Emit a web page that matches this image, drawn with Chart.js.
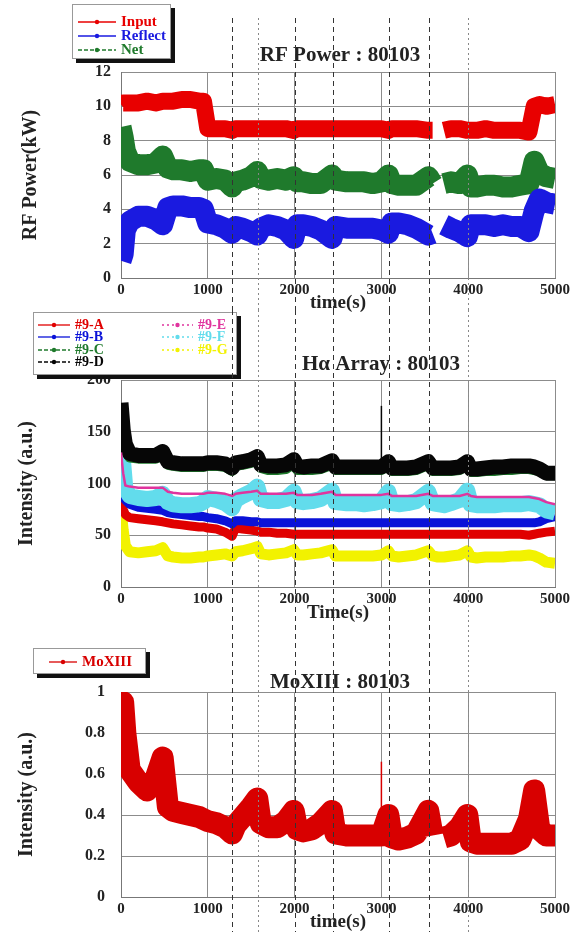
<!DOCTYPE html>
<html>
<head>
<meta charset="utf-8">
<script src="https://cdn.jsdelivr.net/npm/chart.js"></script>
<style>
  html, body { margin: 0; padding: 0; background: #fff; }
  canvas { position: absolute; left: 0; }
</style>
</head>
<body>
<canvas id="rf" width="573" height="316" style="top:0px"></canvas>
<canvas id="ha" width="573" height="318" style="top:310px"></canvas>
<canvas id="mo" width="573" height="307" style="top:625px"></canvas>
<script>
// Time base (s), shared by every trace
const times = [
  0, 25, 50, 100, 200, 300, 400, 480, 540, 600,
  700, 800, 900, 950, 1000, 1100, 1200, 1280, 1320, 1400,
  1500, 1570, 1610, 1700, 1800, 1900, 1990, 2030, 2100, 2200,
  2300, 2430, 2470, 2600, 2700, 2800, 2900, 3000, 3080, 3120,
  3200, 3300, 3400, 3540, 3590, 3650, 3720, 3800, 3900, 3990,
  4030, 4100, 4200, 4300, 4400, 4500, 4600, 4700, 4760, 4820,
  4900, 5000
];

// RF power (kW)
const rfInput = [
  10.1, 10.2, 10.2, 10.2, 10.2, 10.3, 10.2, 10.3, 10.3, 10.3,
  10.4, 10.4, 10.3, 10.3, 8.7, 8.7, 8.7, 8.6, 8.7, 8.7,
  8.7, 8.7, 8.7, 8.7, 8.7, 8.7, 8.6, 8.7, 8.7, 8.7,
  8.7, 8.7, 8.7, 8.7, 8.7, 8.7, 8.7, 8.7, 8.6, 8.7,
  8.7, 8.7, 8.7, 8.6, 8.6, null, 8.6, 8.7, 8.7, 8.6,
  8.6, 8.6, 8.7, 8.6, 8.6, 8.6, 8.6, 8.5, 10.0, 10.1,
  10.0, 10.1
];
const rfReflect = [
  1.0, 1.4, 2.8, 3.3, 3.6, 3.6, 3.4, 3.1, 4.1, 4.2,
  4.2, 4.1, 4.1, 4.0, 3.2, 3.1, 2.9, 2.6, 3.0, 2.9,
  2.7, 2.5, 2.9, 3.1, 3.0, 2.8, 2.3, 3.1, 3.1, 3.0,
  2.8, 2.3, 3.0, 2.9, 2.9, 2.9, 2.9, 2.8, 2.6, 3.2,
  3.2, 3.1, 2.9, 2.5, 2.6, null, 3.1, 2.9, 2.7, 2.4,
  3.1, 3.1, 3.1, 3.0, 3.1, 3.0, 3.0, 2.7, 3.9, 4.6,
  4.4, 4.3
];
const rfNet = [
  8.8, 8.2, 7.4, 6.8, 6.6, 6.6, 6.7, 7.1, 6.4, 6.3,
  6.3, 6.2, 6.3, 6.3, 5.7, 5.8, 5.7, 5.3, 5.6, 5.7,
  5.9, 6.2, 5.8, 5.7, 5.8, 5.7, 5.9, 5.6, 5.6, 5.5,
  5.5, 6.0, 5.7, 5.6, 5.6, 5.6, 5.5, 5.6, 6.0, 5.5,
  5.4, 5.4, 5.4, 5.9, 5.5, null, 5.5, 5.6, 5.5, 6.0,
  5.3, 5.3, 5.4, 5.4, 5.3, 5.3, 5.4, 5.5, 6.8, 6.1,
  5.9, 5.8
];

// H-alpha array (a.u.)
const ha9A = [
  85, 75, 70, 67, 66, 65, 64, 63, 62, 61,
  60, 59, 58, 58, 57, 56, 53, 49, 57, 56,
  55, 54, 53, 53, 52, 52, 51, 51, 51, 51,
  51, 51, 51, 51, 51, 51, 51, 51, 51, 51,
  51, 51, 51, 51, 51, 51, 51, 51, 51, 51,
  51, 51, 51, 51, 51, 51, 51, 50, 51, 52,
  53, 54
];
const ha9B = [
  100, 90, 84, 80, 77, 76, 75, 74, 72, 71,
  70, 69, 68, 68, 67, 66, 64, 61, 64, 64,
  63, 63, 62, 62, 62, 62, 62, 62, 62, 62,
  62, 62, 62, 62, 62, 62, 62, 62, 62, 62,
  62, 62, 62, 62, 62, 62, 62, 62, 62, 62,
  62, 62, 62, 62, 62, 62, 62, 62, 62, 63,
  66, 68
];
const ha9C = [
  170, 145, 133, 125, 124, 124, 124, 127, 118, 117,
  116, 116, 116, 116, 117, 117, 116, 112, 117, 118,
  120, 122, 115, 113, 113, 114, 119, 113, 113, 113,
  114, 118, 113, 113, 113, 113, 113, 113, 117, 112,
  112, 112, 113, 118, 112, 112, 112, 112, 113, 117,
  111, 111, 112, 112, 113, 113, 114, 114, 113, 112,
  108, 108
];
const ha9D = [
  178, 152, 138, 129, 127, 127, 127, 131, 121, 120,
  119, 119, 119, 119, 120, 120, 119, 115, 120, 121,
  123, 126, 118, 117, 117, 118, 123, 117, 116, 117,
  117, 122, 116, 116, 116, 116, 116, 116, 121, 115,
  115, 115, 116, 121, 115, 115, 115, 115, 116, 121,
  114, 114, 115, 116, 116, 117, 117, 117, 116, 114,
  110, 110
];
const ha9E = [
  130, 110, 98, 97, 96, 96, 96, 96, 92, 91,
  90, 90, 90, 90, 91, 91, 90, 88, 90, 91,
  92, 93, 90, 90, 90, 90, 91, 89, 89, 89,
  90, 92, 89, 89, 89, 89, 89, 89, 90, 88,
  88, 88, 88, 90, 88, 88, 88, 88, 88, 90,
  88, 87, 87, 87, 87, 87, 87, 87, 86, 85,
  82, 80
];
const ha9F = [
  155, 120, 95, 88, 86, 85, 86, 90, 82, 80,
  79, 79, 80, 82, 86, 84, 81, 76, 84, 88,
  92, 97, 85, 83, 83, 85, 92, 83, 82, 83,
  85, 93, 82, 81, 81, 80, 81, 83, 92, 81,
  80, 81, 83, 92, 81, 80, 79, 81, 84, 93,
  80, 79, 79, 79, 80, 80, 80, 81, 80, 79,
  74, 72
];
const ha9G = [
  75, 55, 40, 34, 33, 34, 35, 38, 30, 29,
  28, 28, 29, 29, 30, 31, 32, 30, 34, 35,
  37, 39, 32, 31, 32, 33, 36, 31, 31, 32,
  33, 36, 30, 30, 30, 30, 30, 31, 35, 30,
  29, 30, 31, 35, 30, 29, 29, 30, 31, 35,
  29, 28, 29, 29, 29, 30, 30, 31, 30, 28,
  24, 23
];

// MoXIII (a.u.)
const moXIII = [
  0.85, 0.95, 0.80, 0.62, 0.56, 0.52, 0.58, 0.68, 0.44, 0.42,
  0.41, 0.40, 0.39, 0.38, 0.37, 0.36, 0.34, 0.31, 0.35, 0.39,
  0.44, 0.48, 0.36, 0.34, 0.34, 0.37, 0.42, 0.33, 0.32, 0.33,
  0.36, 0.42, 0.31, 0.30, 0.30, 0.30, 0.30, 0.30, 0.40, 0.29,
  0.28, 0.29, 0.31, 0.42, 0.30, null, 0.29, 0.30, 0.34, 0.40,
  0.27, 0.26, 0.26, 0.26, 0.26, 0.26, 0.28, 0.38, 0.52, 0.33,
  0.30, 0.30
];

// Short spikes at t = 3000 s
const spikeTimes = [3000, 3000];
const haSpike = [116, 175];
const moSpike = [0.30, 0.66];

// Event markers (s), drawn through all three panels
const eventTimes = [1280, 1580, 2000, 2440, 3090, 3550, 4000];

// Tick labels
const xTicks = ['0', '1000', '2000', '3000', '4000', '5000'];
const rfTicks = ['0', '2', '4', '6', '8', '10', '12'];
const haTicks = ['0', '50', '100', '150', '200'];
const moTicks = ['0', '0.2', '0.4', '0.6', '0.8', '1'];

const SERIF = '"Liberation Serif", "DejaVu Serif", serif';
Chart.defaults.font.family = SERIF;
Chart.defaults.font.weight = 'bold';
Chart.defaults.color = '#222';

function pts(tArr, vArr) {
  return tArr.map((t, i) => ({ x: t, y: vArr[i] }));
}

function trace(label, vals, color, width, order, keyDash) {
  return {
    label, data: pts(times, vals), borderColor: color, borderWidth: width,
    order, keyDash: keyDash || [], pointRadius: 0, tension: 0,
    spanGaps: false, borderJoinStyle: 'round', fill: false
  };
}

function spike(vals, color, order) {
  return {
    label: '', data: pts(spikeTimes, vals), borderColor: color, borderWidth: 1.5,
    order, pointRadius: 0, fill: false
  };
}

// Legend box, title and event lines
const deco = {
  id: 'deco',
  afterDraw(chart, args, o) {
    const ctx = chart.ctx;
    const L = o.legend;
    ctx.save();
    ctx.fillStyle = '#111';
    ctx.fillRect(L.x + 4, L.y + 4, L.w, L.h);
    ctx.fillStyle = '#fff';
    ctx.fillRect(L.x, L.y, L.w, L.h);
    ctx.strokeStyle = '#999';
    ctx.lineWidth = 1;
    ctx.strokeRect(L.x + 0.5, L.y + 0.5, L.w - 1, L.h - 1);
    ctx.font = 'bold ' + L.size + 'px ' + SERIF;
    ctx.textBaseline = 'middle';
    ctx.textAlign = 'left';
    L.items.forEach(it => {
      const ds = chart.data.datasets[it.ds];
      ctx.strokeStyle = ds.borderColor;
      ctx.lineWidth = 1.3;
      ctx.setLineDash(ds.keyDash);
      ctx.beginPath();
      ctx.moveTo(it.x, it.y);
      ctx.lineTo(it.x + it.len, it.y);
      ctx.stroke();
      ctx.setLineDash([]);
      ctx.fillStyle = ds.borderColor;
      ctx.beginPath();
      ctx.arc(it.x + it.len / 2, it.y, 2.2, 0, Math.PI * 2);
      ctx.fill();
      ctx.fillText(ds.label, it.x + it.len + 5, it.y);
    });

    ctx.fillStyle = '#222';
    ctx.font = 'bold 21px ' + SERIF;
    ctx.textAlign = 'center';
    ctx.fillText(o.title.text, o.title.x, o.title.y);

    const xs = chart.scales.x;
    eventTimes.forEach((t, i) => {
      const px = Math.round(xs.getPixelForValue(t)) + 0.5;
      const light = (i === 1 || i === 6);
      ctx.strokeStyle = light ? '#888' : '#333';
      ctx.setLineDash(light ? [2, 3] : [5, 4]);
      ctx.lineWidth = 1;
      ctx.beginPath();
      ctx.moveTo(px, o.lineTop);
      ctx.lineTo(px, o.lineBottom);
      ctx.stroke();
    });
    ctx.restore();
  }
};

function makeChart(id, c) {
  return new Chart(document.getElementById(id), {
    type: 'line',
    data: { datasets: c.datasets },
    plugins: [deco],
    options: {
      responsive: false,
      animation: false,
      devicePixelRatio: 1,
      layout: { padding: c.pad },
      plugins: {
        legend: { display: false },
        tooltip: { enabled: false },
        deco: c.deco
      },
      scales: {
        x: {
          type: 'linear', min: 0, max: 5000,
          afterFit: s => { s.height = c.xHeight; },
          ticks: {
            stepSize: 1000, autoSkip: false, maxRotation: 0, padding: 3,
            font: { size: 15 }, color: '#222',
            callback: (v, i) => xTicks[i]
          },
          grid: { color: '#8c8c8c', drawTicks: false },
          border: { color: '#777' },
          title: {
            display: true, text: c.xTitle, color: '#222',
            font: { size: 19, lineHeight: 1 },
            padding: { top: 0, bottom: c.xTitlePad }
          }
        },
        y: {
          type: 'linear', min: c.yMin, max: c.yMax,
          afterFit: s => { s.width = c.yWidth; },
          ticks: {
            stepSize: c.yStep, autoSkip: false, padding: c.tickPad,
            font: { size: 16 }, color: '#222',
            callback: (v, i) => c.yTicks[i]
          },
          grid: { color: '#8c8c8c', drawTicks: false },
          border: { color: '#777' },
          title: {
            display: true, text: c.yTitle, color: '#222',
            font: { size: 20, lineHeight: 1 }, padding: 0
          }
        }
      }
    }
  });
}

// Panel 1: RF power
makeChart('rf', {
  datasets: [
    trace('Input', rfInput, '#e80000', 17, 0),
    trace('Reflect', rfReflect, '#1a1ae0', 21, 1),
    trace('Net', rfNet, '#1f7a2c', 21, 2, [4, 2])
  ],
  yMin: 0, yMax: 12, yStep: 2, yTicks: rfTicks,
  yTitle: 'RF Power(kW)', xTitle: 'time(s)',
  pad: { left: 21, right: 18, top: 72, bottom: 0 },
  yWidth: 100, xHeight: 38, xTitlePad: 3, tickPad: 10,
  deco: {
    title: { text: 'RF Power : 80103', x: 340, y: 56 },
    lineTop: 18, lineBottom: 310,
    legend: {
      x: 72, y: 4, w: 99, h: 55, size: 15,
      items: [
        { ds: 0, x: 78, y: 22, len: 38 },
        { ds: 1, x: 78, y: 36, len: 38 },
        { ds: 2, x: 78, y: 50, len: 38 }
      ]
    }
  }
});

// Panel 2: H-alpha array
makeChart('ha', {
  datasets: [
    trace('#9-A', ha9A, '#e00000', 9, 5),
    trace('#9-B', ha9B, '#0a12d8', 9, 4),
    trace('#9-C', ha9C, '#1f7a2c', 10, 2, [4, 2]),
    trace('#9-D', ha9D, '#060606', 15, 1, [4, 2]),
    trace('#9-E', ha9E, '#e0349e', 2.5, 0, [2, 3]),
    trace('#9-F', ha9F, '#62dcec', 16, 3, [2, 3]),
    trace('#9-G', ha9G, '#f2f200', 11, 6, [2, 3]),
    spike(haSpike, '#060606', 1)
  ],
  yMin: 0, yMax: 200, yStep: 50, yTicks: haTicks,
  yTitle: 'Intensity (a.u.)', xTitle: 'Time(s)',
  pad: { left: 17, right: 18, top: 70, bottom: 0 },
  yWidth: 104, xHeight: 41, xTitlePad: 5, tickPad: 10,
  deco: {
    title: { text: 'H\u03b1 Array : 80103', x: 381, y: 55 },
    lineTop: 0, lineBottom: 315,
    legend: {
      x: 33, y: 2, w: 204, h: 63, size: 14,
      items: [
        { ds: 0, x: 38, y: 15, len: 32 },
        { ds: 1, x: 38, y: 27, len: 32 },
        { ds: 2, x: 38, y: 40, len: 32 },
        { ds: 3, x: 38, y: 52, len: 32 },
        { ds: 4, x: 162, y: 15, len: 31 },
        { ds: 5, x: 162, y: 27, len: 31 },
        { ds: 6, x: 162, y: 40, len: 31 }
      ]
    }
  }
});

// Panel 3: MoXIII
makeChart('mo', {
  datasets: [
    trace('MoXIII', moXIII, '#d80000', 22, 0),
    spike(moSpike, '#d80000', 1)
  ],
  yMin: 0, yMax: 1, yStep: 0.2, yTicks: moTicks,
  yTitle: 'Intensity (a.u.)', xTitle: 'time(s)',
  pad: { left: 17, right: 18, top: 67, bottom: 0 },
  yWidth: 104, xHeight: 35, xTitlePad: 0, tickPad: 16,
  deco: {
    title: { text: 'MoXIII : 80103', x: 340, y: 58 },
    lineTop: 0, lineBottom: 307,
    legend: {
      x: 33, y: 23, w: 113, h: 26, size: 15,
      items: [
        { ds: 0, x: 49, y: 37, len: 28 }
      ]
    }
  }
});
</script>
</body>
</html>
